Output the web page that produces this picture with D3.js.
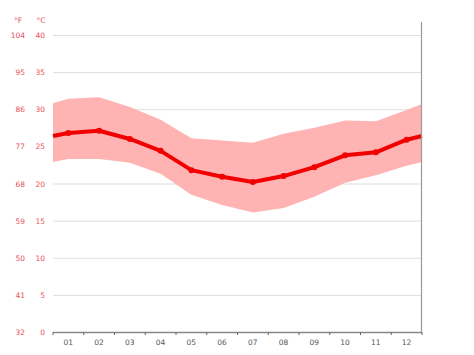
<!DOCTYPE html>
<html><head><meta charset="utf-8">
<script src="https://cdn.jsdelivr.net/npm/d3@7"></script>
<style>body{margin:0;background:#fff}svg{display:block}</style>
</head><body>
<svg id="c" width="474" height="355"></svg>
<script>
const months = ["01","02","03","04","05","06","07","08","09","10","11","12"];
const meanT = [26.8,27.1,26.0,24.4,21.8,20.9,20.2,21.0,22.2,23.8,24.2,25.9];
const maxT  = [31.4,31.6,30.3,28.6,26.1,25.8,25.5,26.7,27.5,28.5,28.4,29.9];
const minT  = [23.3,23.3,22.8,21.3,18.5,17.1,16.1,16.7,18.2,20.1,21.1,22.4];
// values at left and right plot edges
const edgeMean = [26.4, 26.4];
const edgeMax  = [30.8, 30.7];
const edgeMin  = [22.9, 22.9];
const cTicks = [0,5,10,15,20,25,30,35,40];
const fTicks = ["32","41","50","59","68","77","86","95","104"];

const svg = d3.select("#c");
const L=53, R=422, T=35, B=332;
const x = d3.scaleLinear().domain([0.5,12.5]).range([L,R]);
const y = d3.scaleLinear().domain([0,40]).range([B,T]);

const idx = d3.range(12).map(i=>i+1);
const pts = (arr, edge) => [[0.5,edge[0]], ...idx.map((m,i)=>[m,arr[i]]), [12.5,edge[1]]];

// gridlines
svg.append("g").selectAll("line").data(cTicks.filter(d=>d>0)).join("line")
  .attr("x1",L).attr("x2",R).attr("y1",d=>y(d)+0.5).attr("y2",d=>y(d)+0.5)
  .attr("stroke","#dddddd").attr("stroke-width",1);

// band
const hi = pts(maxT, edgeMax), lo = pts(minT, edgeMin);
const band = hi.map((p,i)=>({x:p[0],hi:p[1],lo:lo[i][1]}));
svg.append("path").datum(band)
  .attr("d", d3.area().x(d=>x(d.x)).y0(d=>y(d.lo)).y1(d=>y(d.hi)))
  .attr("fill","#ffb3b3");

// mean line
svg.append("path").datum(pts(meanT, edgeMean))
  .attr("d", d3.line().x(d=>x(d[0])).y(d=>y(d[1])))
  .attr("fill","none").attr("stroke","#f20000").attr("stroke-width",4)
  .attr("stroke-linejoin","round");
svg.append("g").selectAll("circle").data(meanT).join("circle")
  .attr("cx",(d,i)=>x(i+1)).attr("cy",d=>y(d)).attr("r",3).attr("fill","#f20000");

// right border
svg.append("line").attr("x1",R-0.5).attr("x2",R-0.5).attr("y1",22).attr("y2",B)
  .attr("stroke","#999").attr("stroke-width",1.2);

// x axis
const xa = svg.append("g").attr("transform",`translate(0,${B})`);
xa.append("line").attr("x1",L).attr("x2",R).attr("y1",0.5).attr("y2",0.5)
  .attr("stroke","#888").attr("stroke-width",1.5);
xa.selectAll("line.t").data(d3.range(13)).join("line").attr("class","t")
  .attr("x1",d=>x(d+0.5)).attr("x2",d=>x(d+0.5)).attr("y1",0).attr("y2",3)
  .attr("stroke","#666");
xa.selectAll("text").data(months).join("text")
  .attr("x",(d,i)=>x(i+1)).attr("y",13).attr("text-anchor","middle")
  .attr("font-family","DejaVu Sans, sans-serif").attr("font-size",7.5).attr("fill","#555")
  .text(d=>d);

// y labels
const lab = svg.append("g").attr("font-family","DejaVu Sans, sans-serif").attr("font-size",7.5).attr("fill","#ea4f58");
lab.selectAll("text.c").data(cTicks).join("text").attr("class","c")
  .attr("x",45).attr("y",d=>y(d)+3).attr("text-anchor","end").text(d=>d);
lab.selectAll("text.f").data(fTicks).join("text").attr("class","f")
  .attr("x",25).attr("y",(d,i)=>y(cTicks[i])+3).attr("text-anchor","end").text(d=>d);
lab.append("text").attr("x",18).attr("y",23).attr("text-anchor","middle").text("°F");
lab.append("text").attr("x",41).attr("y",23).attr("text-anchor","middle").text("°C");
</script>
</body></html>
